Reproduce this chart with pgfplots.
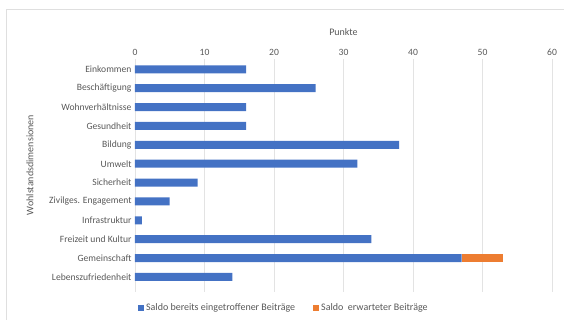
\documentclass[border=0pt]{standalone}
\usepackage{fontspec}
\setmainfont{Carlito}
\usepackage{pgfplots}
\pgfplotsset{compat=1.18}
\usetikzlibrary{calc}
\definecolor{bl}{HTML}{4472C4}
\definecolor{or}{HTML}{ED7D31}
\definecolor{tx}{HTML}{595959}
\begin{document}
\begin{tikzpicture}
\begin{axis}[
  width=417pt, height=233pt, scale only axis,
  xbar stacked, bar width=8pt,
  xmin=0, xmax=60, xtick={0,10,...,60},
  ymin=-0.55, ymax=11.8, y dir=reverse,
  ytick={0,...,11},
  yticklabels={Einkommen,Beschäftigung,Wohnverhältnisse,Gesundheit,Bildung,Umwelt,Sicherheit,Zivilges. Engagement,Infrastruktur,Freizeit und Kultur,Gemeinschaft,Lebenszufriedenheit},
  xticklabel pos=top,
  major tick length=0pt,
  axis line style={draw=none},
  xmajorgrids, grid style={gray!22, line width=0.6pt},
  /pgf/number format/assume math mode=true,
  tick label style={font=\fontsize{9.6}{11}\selectfont, text=tx},
  xlabel={Punkte},
  xlabel style={font=\fontsize{10}{12}\selectfont, text=tx, at={(axis description cs:0.5,1)}, anchor=south, yshift=20pt},
  ylabel={Wohlstandsdimensionen},
  ylabel style={font=\fontsize{10}{12}\selectfont, text=tx, at={(axis description cs:-0.252,0.545)}, anchor=center},
  legend style={at={(axis description cs:0.357,-0.069)}, anchor=center, draw=none, legend columns=2, font=\fontsize{10}{11}\selectfont, text=tx, /tikz/every even column/.append style={column sep=16pt}},
  legend image code/.code={\fill[#1] (0pt,-3pt) rectangle (6pt,3pt);},
]
\addplot[fill=bl, draw=none] coordinates {(16,0) (26,1) (16,2) (16,3) (38,4) (32,5) (9,6) (5,7) (1,8) (34,9) (47,10) (14,11)};
\addplot[fill=or, draw=none] coordinates {(0,0) (0,1) (0,2) (0,3) (0,4) (0,5) (0,6) (0,7) (0,8) (0,9) (6,10) (0,11)};
\legend{Saldo bereits eingetroffener Beiträge, Saldo\ \ erwarteter Beiträge}
\coordinate (O) at (axis description cs:0,0);
\end{axis}
\pgfresetboundingbox
\path[use as bounding box] ($(O)+(-135pt,-28pt)$) rectangle ++(564pt,320pt);
\draw[gray!25] ($(O)+(-128.5pt,-33pt)$) rectangle ++(570pt,315.5pt);
\end{tikzpicture}
\end{document}
